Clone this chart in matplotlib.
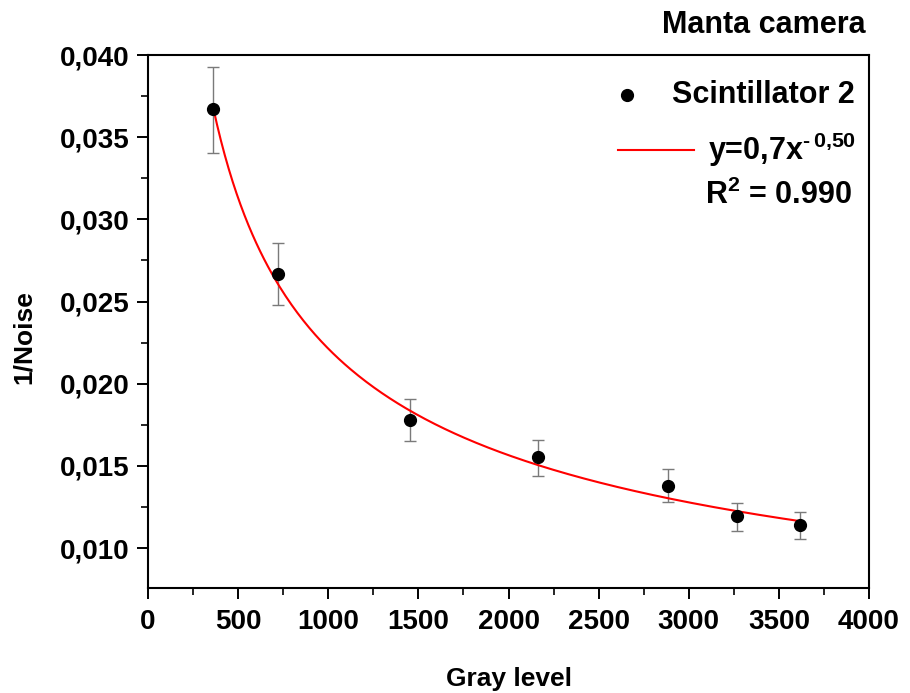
import numpy as np
import matplotlib
matplotlib.use("Agg")
import matplotlib.pyplot as plt
from matplotlib.ticker import MultipleLocator, FuncFormatter

gray_level = [361, 721, 1454, 2164, 2885, 3268, 3618]
inv_noise = [0.03672, 0.02668, 0.0178, 0.01555, 0.01378, 0.01196, 0.01141]
err_low = [0.03404, 0.02479, 0.01652, 0.01439, 0.01281, 0.01105, 0.01056]
err_high = [0.03927, 0.02857, 0.01908, 0.01658, 0.01482, 0.01275, 0.0122]

fit_a = 0.7
fit_b = -0.50

plt.rcParams['font.family'] = ['Liberation Sans', 'DejaVu Sans']
plt.rcParams['font.weight'] = 'bold'
plt.rcParams['mathtext.fontset'] = 'custom'
plt.rcParams['mathtext.rm'] = 'Liberation Sans:bold'
plt.rcParams['mathtext.bf'] = 'Liberation Sans:bold'

fig = plt.figure(figsize=(9.1, 6.93), dpi=100)
ax = fig.add_axes([0.1626, 0.1515, 0.7924, 0.7691])

x = np.array(gray_level)
y = np.array(inv_noise)
yerr = [y - np.array(err_low), np.array(err_high) - y]

ax.errorbar(x, y, yerr=yerr, fmt='none', ecolor='#7a7a7a', elinewidth=1,
            capsize=4, capthick=1, zorder=2)
ax.plot(x, y, 'o', color='black', markersize=8.5, zorder=3)

xf = np.linspace(x[0], x[-1], 300)
ax.plot(xf, fit_a * xf ** fit_b, color='red', lw=1.5, zorder=2.5)

ax.set_xlim(0, 4000)
ax.set_ylim(0.00757, 0.040)
ax.xaxis.set_major_locator(MultipleLocator(500))
ax.xaxis.set_minor_locator(MultipleLocator(250))
ax.yaxis.set_major_locator(MultipleLocator(0.005))
ax.yaxis.set_minor_locator(MultipleLocator(0.0025))
ax.yaxis.set_major_formatter(FuncFormatter(lambda v, p: f"{v:.3f}".replace('.', ',')))

ax.tick_params(which='major', direction='out', length=8, width=1.4, labelsize=20, pad=5)
ax.tick_params(axis='x', which='major', pad=7)
ax.tick_params(which='minor', direction='out', length=5, width=1.2)
for lab in ax.get_xticklabels() + ax.get_yticklabels():
    lab.set_fontweight('bold')
for sp in ax.spines.values():
    sp.set_linewidth(1.5)

ax.set_xlabel('Gray level', fontsize=19, fontweight='bold')
ax.set_ylabel('1/Noise', fontsize=19, fontweight='bold')
ax.xaxis.set_label_coords(0.5, -0.148)
ax.yaxis.set_label_coords(-0.155, 0.47)

# legend drawn by hand to follow the original layout
ax.plot([0.664], [0.925], 'o', color='black', markersize=8.5,
        transform=ax.transAxes, clip_on=False)
ax.text(0.727, 0.925, 'Scintillator 2', transform=ax.transAxes,
        ha='left', va='center', fontsize=22, fontweight='bold')
ax.plot([0.652, 0.757], [0.822, 0.822], color='red', lw=1.5,
        transform=ax.transAxes, clip_on=False)
ax.text(0.777, 0.822, r'y=0,7x$^{\mathbf{\text{-}\,0{,}50}}$', transform=ax.transAxes,
        ha='left', va='center', fontsize=22, fontweight='bold')
ax.text(0.773, 0.737, r'R$^{\mathbf{2}}$ = 0.990', transform=ax.transAxes,
        ha='left', va='center', fontsize=22, fontweight='bold')

fig.text(0.9516, 0.964, 'Manta camera', ha='right', va='center',
         fontsize=22, fontweight='bold')

fig.savefig('out.png', dpi=100)
